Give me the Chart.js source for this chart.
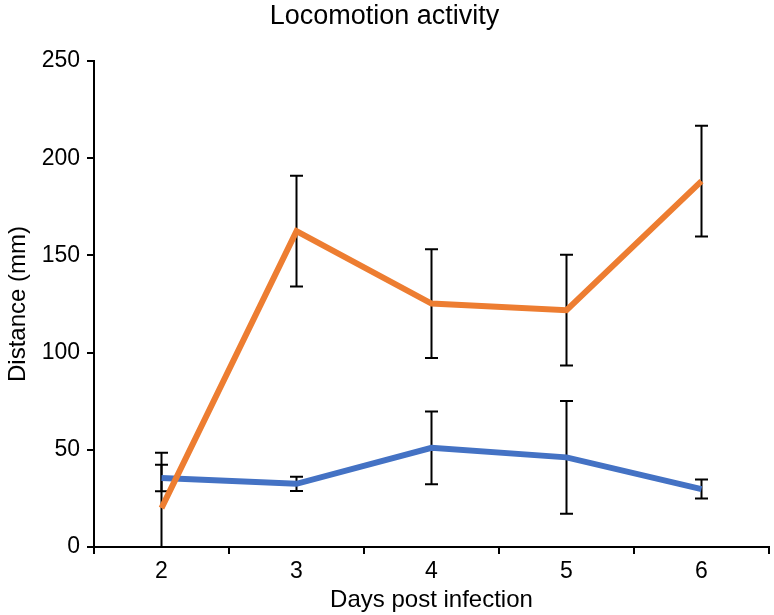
<!DOCTYPE html>
<html>
<head>
<meta charset="utf-8">
<script src="https://cdn.jsdelivr.net/npm/chart.js@4.4.1/dist/chart.umd.min.js"></script>
<style>
  html, body { margin: 0; padding: 0; background: #fff; }
  #wrap { width: 774px; height: 615px; }
</style>
</head>
<body>
<div id="wrap"><canvas id="lineChart" width="774" height="615"></canvas></div>
<script>
// data
const days = ['2', '3', '4', '5', '6'];
const orangeValues = [20, 162.5, 125.2, 121.8, 188.2];
const orangeErrors = [28.5, 28.5, 28, 28.5, 28.5];
const blueValues = [35.5, 32.5, 51, 46.1, 29.8];
const blueErrors = [6.8, 3.7, 18.7, 29, 4.9];
const yTicks = [0, 50, 100, 150, 200, 250];

const fontFamily = '"Liberation Sans", Arial, sans-serif';

// draws the black error bars behind the lines
const errorBars = {
  id: 'errorBars',
  beforeDatasetsDraw(chart) {
    const ctx = chart.ctx;
    const area = chart.chartArea;
    const yScale = chart.scales.y;
    ctx.save();
    ctx.beginPath();
    ctx.rect(area.left, area.top - 10, area.right - area.left, area.bottom - area.top + 10);
    ctx.clip();
    ctx.strokeStyle = '#000';
    ctx.lineWidth = 2;
    chart.data.datasets.forEach((ds, i) => {
      const meta = chart.getDatasetMeta(i);
      meta.data.forEach((pt, j) => {
        const v = ds.data[j];
        const e = ds.errors[j];
        const top = yScale.getPixelForValue(v + e);
        const bottom = yScale.getPixelForValue(v - e);
        ctx.beginPath();
        ctx.moveTo(pt.x, top);
        ctx.lineTo(pt.x, bottom);
        ctx.moveTo(pt.x - 6.5, top);
        ctx.lineTo(pt.x + 6.5, top);
        ctx.moveTo(pt.x - 6.5, bottom);
        ctx.lineTo(pt.x + 6.5, bottom);
        ctx.stroke();
      });
    });
    ctx.restore();
  }
};

const canvas = document.getElementById('lineChart').getContext('2d');
new Chart(canvas, {
  type: 'line',
  data: {
    labels: days,
    datasets: [
      {
        label: 'Orange',
        data: orangeValues,
        errors: orangeErrors,
        borderColor: '#ED7D31',
        borderWidth: 6,
        pointRadius: 0,
        tension: 0,
        fill: false
      },
      {
        label: 'Blue',
        data: blueValues,
        errors: blueErrors,
        borderColor: '#4472C4',
        borderWidth: 6,
        pointRadius: 0,
        tension: 0,
        fill: false
      }
    ]
  },
  options: {
    responsive: false,
    animation: false,
    layout: { padding: { left: 0, right: 5, top: 0, bottom: 0 } },
    plugins: {
      legend: { display: false },
      tooltip: { enabled: false },
      title: {
        display: true,
        text: 'Locomotion activity',
        color: '#000',
        font: { family: fontFamily, size: 27, weight: 'normal' },
        padding: { top: 0, bottom: 28.6 }
      }
    },
    scales: {
      x: {
        offset: true,
        grid: {
          offset: true,
          drawOnChartArea: false,
          color: '#000',
          lineWidth: 2,
          tickLength: 7,
          tickColor: '#000'
        },
        border: { color: '#000', width: 2 },
        ticks: {
          color: '#000',
          font: { family: fontFamily, size: 23 },
          padding: 4
        },
        title: {
          display: true,
          text: 'Days post infection',
          color: '#000',
          font: { family: fontFamily, size: 24 },
          padding: { top: 0, bottom: 0 }
        },
        afterFit(scale) { scale.height = 68; }
      },
      y: {
        min: 0,
        max: 250,
        afterBuildTicks(scale) { scale.ticks = yTicks.map(v => ({ value: v })); },
        grid: {
          drawOnChartArea: false,
          color: '#000',
          lineWidth: 2,
          tickLength: 7,
          tickColor: '#000'
        },
        border: { color: '#000', width: 2 },
        ticks: {
          color: '#000',
          font: { family: fontFamily, size: 23 },
          padding: 7
        },
        title: {
          display: true,
          text: 'Distance (mm)',
          color: '#000',
          font: { family: fontFamily, size: 24 },
          padding: { top: 4, bottom: 0 }
        },
        afterFit(scale) { scale.width = 94; }
      }
    }
  },
  plugins: [errorBars]
});
</script>
</body>
</html>
